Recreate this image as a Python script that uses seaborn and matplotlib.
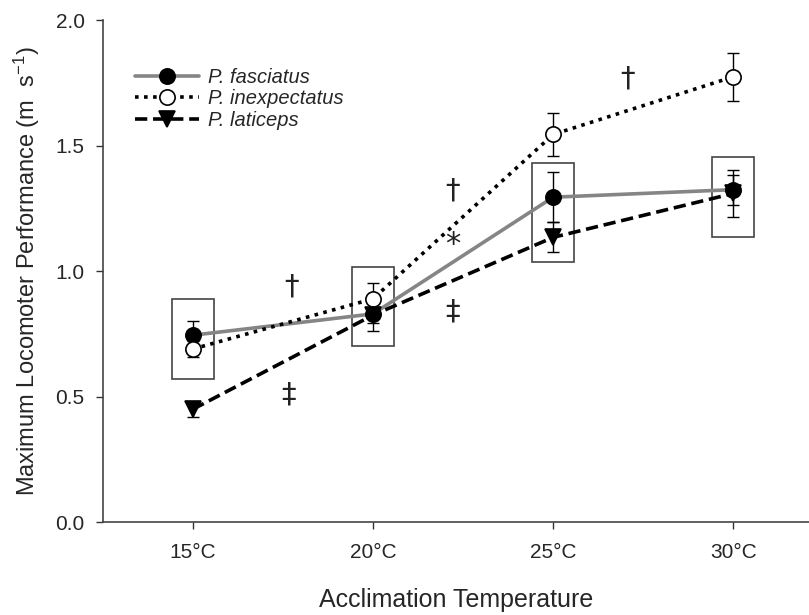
import pandas as pd
import matplotlib
matplotlib.use('Agg')
import matplotlib.pyplot as plt
from matplotlib.patches import Rectangle
import seaborn as sns

# Data
temps = ['15°C', '20°C', '25°C', '30°C']
fasciatus = [0.745, 0.83, 1.295, 1.325]
fasciatus_se = [0.055, 0.07, 0.10, 0.06]
inexpectatus = [0.69, 0.89, 1.545, 1.775]
inexpectatus_se = [0.03, 0.065, 0.085, 0.095]
laticeps = [0.45, 0.825, 1.135, 1.31]
laticeps_se = [0.03, 0.03, 0.06, 0.095]

# boxes grouping non-different species
box_lo = [0.57, 0.70, 1.035, 1.135]
box_hi = [0.89, 1.015, 1.43, 1.455]

# significance symbols (x in category units, y in data units)
sym_text = ['†', '‡', '†', '*', '‡', '†']
sym_x = [0.55, 0.53, 1.44, 1.44, 1.44, 2.41]
sym_y = [0.94, 0.51, 1.32, 1.105, 0.84, 1.77]

sns.set_style('ticks')
plt.rcParams['font.family'] = ['Liberation Sans', 'DejaVu Sans']
plt.rcParams['mathtext.default'] = 'regular'

df = pd.DataFrame({
    'temp': temps * 3,
    'pos': list(range(4)) * 3,
    'perf': fasciatus + inexpectatus + laticeps,
    'se': fasciatus_se + inexpectatus_se + laticeps_se,
    'species': ['P. fasciatus'] * 4 + ['P. inexpectatus'] * 4 + ['P. laticeps'] * 4,
})

styles = {
    'P. fasciatus': dict(color='#858585', marker='o', mfc='black', dashes=None),
    'P. inexpectatus': dict(color='black', marker='o', mfc='white', dashes=(1.0, 1.5)),
    'P. laticeps': dict(color='black', marker='v', mfc='black', dashes=(3.4, 1.6)),
}

fig = plt.figure(figsize=(8.09, 6.15), dpi=100)
ax = fig.add_axes([0.127, 0.151, 0.873, 0.816])

for i in range(4):
    ax.add_patch(Rectangle((i - 0.117, box_lo[i]), 0.234, box_hi[i] - box_lo[i],
                           fill=False, ec='#444444', lw=1.2, zorder=1))

for sp in ['P. fasciatus', 'P. inexpectatus', 'P. laticeps']:
    d = df[df['species'] == sp]
    st = styles[sp]
    ax.errorbar(d['pos'], d['perf'], yerr=d['se'], fmt='none', ecolor='black',
                elinewidth=1.0, capsize=4, capthick=1.0, zorder=3)
    sns.lineplot(x=d['pos'], y=d['perf'], ax=ax, color=st['color'], lw=2.6,
                 zorder=2, legend=False)
    line = ax.lines[-1]
    if st['dashes'] is not None:
        line.set_dashes(st['dashes'])
    line.set_marker(st['marker'])
    line.set_markersize(11)
    line.set_markerfacecolor(st['mfc'])
    line.set_markeredgecolor('black')
    line.set_markeredgewidth(1.2)
    line.set_label(sp)
    line.set_zorder(4)

for t, x, y in zip(sym_text, sym_x, sym_y):
    ax.text(x, y, t, ha='center', va='center', fontsize=21 if t != '*' else 22,
            color='#222222', family=['DejaVu Sans'])

ax.set_xlim(-0.5, 3.42)
ax.set_ylim(0, 2.0)
ax.set_xticks(range(4))
ax.set_xticklabels(temps)
ax.set_yticks([0.0, 0.5, 1.0, 1.5, 2.0])
ax.set_yticklabels(['0.0', '0.5', '1.0', '1.5', '2.0'])
ax.tick_params(axis='both', labelsize=15, length=5, width=1, color='#333333')
ax.tick_params(axis='y', pad=8)
ax.tick_params(axis='x', pad=10)
for s in ['left', 'bottom']:
    ax.spines[s].set_color('#444444')
    ax.spines[s].set_linewidth(1.2)
sns.despine(ax=ax)

ax.set_xlabel('Acclimation Temperature', fontsize=18, labelpad=19)
ax.set_ylabel('Maximum Locomoter Performance (m  s$^{-1}$)', fontsize=17, labelpad=10)

ax.legend(loc='upper left', bbox_to_anchor=(0.045, 0.905), frameon=False,
          prop={'style': 'italic', 'size': 14.5}, handlelength=3.2,
          handletextpad=0.45, labelspacing=0.12, borderaxespad=0, borderpad=0)

fig.savefig('out.png', dpi=100)
